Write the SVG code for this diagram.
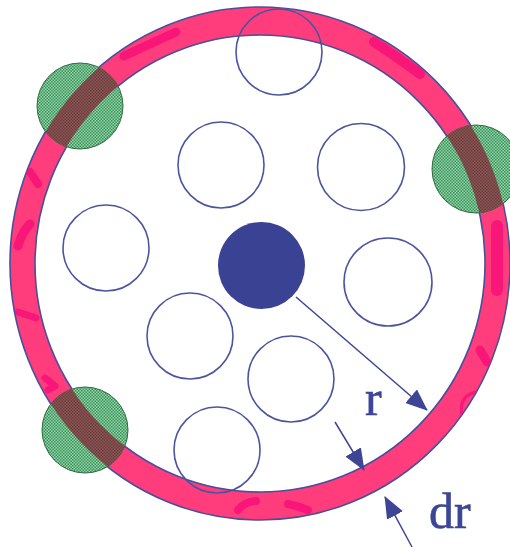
<svg xmlns="http://www.w3.org/2000/svg" width="510" height="548" viewBox="0 0 510 548">
<style>
.ring{fill:#ff3d7c;stroke:#4a4f9c;stroke-width:1.6;fill-rule:evenodd}
.blot{fill:none;stroke:#f70f78;stroke-linecap:round;stroke-linejoin:round;opacity:0.85}
.hole{fill:none;stroke:#4b559f;stroke-width:1.6}
.green{fill:url(#dither);stroke:#2d6b3d;stroke-width:1}
.conn{stroke:#3d4594;stroke-width:1.5;fill:none}
.lbl{font-family:"Liberation Serif","Times New Roman",serif;font-size:50px;fill:#3c4696;stroke:#3c4696;stroke-width:0.6}
</style>
<defs>
<pattern id="dither" width="3" height="3" patternUnits="userSpaceOnUse">
<rect width="3" height="3" fill="#9ad6a9"/>
<rect width="1.5" height="1.5" fill="#33905a"/>
<rect x="1.5" y="1.5" width="1.5" height="1.5" fill="#33905a"/>
</pattern>
<pattern id="brown" width="3" height="3" patternUnits="userSpaceOnUse">
<rect width="3" height="3" fill="#8c5553"/>
<rect width="1.5" height="1.5" fill="#6a3e3e"/>
<rect x="1.5" y="1.5" width="1.5" height="1.5" fill="#6a3e3e"/>
</pattern>
<path id="ringpath" d="M10,263.5 a250,256.5 0 1,0 500,0 a250,256.5 0 1,0 -500,0 Z M35,263.5 a225,228.5 0 1,0 450,0 a225,228.5 0 1,0 -450,0 Z"/>
<clipPath id="ringclip"><use href="#ringpath" clip-rule="evenodd"/></clipPath>
<clipPath id="c1"><circle cx="80" cy="106" r="43"/></clipPath>
<clipPath id="c2"><circle cx="476" cy="169" r="44"/></clipPath>
<clipPath id="c3"><circle cx="85" cy="430" r="43"/></clipPath>
<marker id="ah" viewBox="0 0 22 18" markerWidth="22" markerHeight="18" refX="21" refY="9" orient="auto" markerUnits="userSpaceOnUse">
<path d="M0,0 L22,9 L0,18 Z" fill="#3d4594"/>
</marker>
</defs>
<rect width="510" height="548" fill="#ffffff"/>

<g id="ring">
<use href="#ringpath" class="ring"/>
<g clip-path="url(#ringclip)">
<path class="blot" stroke-width="9" d="M124,56 Q150,44 176,32"/>
<path class="blot" stroke-width="10" d="M374,42 Q396,56 420,74"/>
<path class="blot" stroke-width="8" d="M30,172 L38,184"/>
<path class="blot" stroke-width="9" d="M18,246 Q22,232 30,224"/>
<path class="blot" stroke-width="7" d="M18,312 L36,318"/>
<path class="blot" stroke-width="7" d="M45,378 L55,386 L48,390"/>
<path class="blot" stroke-width="12" d="M497,226 L497,290"/>
<path class="blot" stroke-width="9" d="M480,350 L487,362"/>
<path class="blot" stroke-width="3" d="M462,416 Q458,396 476,392"/>
<path class="blot" stroke-width="8" d="M238,510 Q244,502 256,501"/>
<path class="blot" stroke-width="8" d="M288,504 Q298,506 308,510"/>
</g>
</g>

<g id="green1">
<circle class="green" cx="80" cy="106" r="43"/>
<use href="#ringpath" fill="url(#brown)" fill-rule="evenodd" clip-path="url(#c1)"/>
</g>
<g id="green2">
<circle class="green" cx="476" cy="169" r="44"/>
<use href="#ringpath" fill="url(#brown)" fill-rule="evenodd" clip-path="url(#c2)"/>
</g>
<g id="green3">
<circle class="green" cx="85" cy="430" r="43"/>
<use href="#ringpath" fill="url(#brown)" fill-rule="evenodd" clip-path="url(#c3)"/>
</g>

<g id="hole1"><circle class="hole" cx="279" cy="52" r="43"/></g>
<g id="hole2"><circle class="hole" cx="221" cy="165" r="43"/></g>
<g id="hole3"><circle class="hole" cx="361" cy="167" r="43.5"/></g>
<g id="hole4"><circle class="hole" cx="106" cy="248" r="43"/></g>
<g id="hole5"><circle class="hole" cx="388" cy="282" r="44"/></g>
<g id="hole6"><circle class="hole" cx="190" cy="336" r="43"/></g>
<g id="hole7"><circle class="hole" cx="291" cy="379" r="43"/></g>
<g id="hole8"><circle class="hole" cx="217" cy="450" r="43"/></g>

<g id="center"><circle cx="261.5" cy="265.5" r="43.5" fill="#3a4294"/></g>

<g id="connectors">
<line class="conn" x1="296" y1="297" x2="427" y2="410" marker-end="url(#ah)"/>
<line class="conn" x1="335" y1="422" x2="364" y2="470" marker-end="url(#ah)"/>
<line class="conn" x1="412" y1="547" x2="385" y2="497" marker-end="url(#ah)"/>
</g>

<g id="labels">
<text class="lbl" x="365" y="415">r</text>
<text class="lbl" x="429" y="528">dr</text>
</g>
</svg>
